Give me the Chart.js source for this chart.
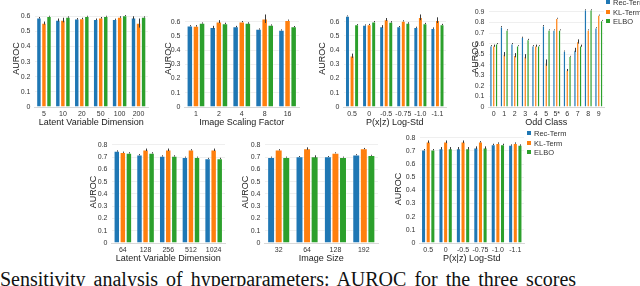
<!DOCTYPE html>
<html><head><meta charset="utf-8">
<script src="https://cdn.jsdelivr.net/npm/chart.js@4/dist/chart.umd.min.js"></script>
<style>
html,body{margin:0;padding:0;background:#fff;width:640px;height:286px;overflow:hidden;position:relative;font-family:"Liberation Sans",Arial,sans-serif;}
canvas{position:absolute;}
.leg{position:absolute;font-size:7.5px;color:#333;line-height:9.5px;}
.leg div{white-space:nowrap;}
.leg span{display:inline-block;width:4px;height:4px;margin-right:3px;vertical-align:1px;}
#cap{position:absolute;left:0px;top:268px;font-family:"Liberation Serif","DejaVu Serif",serif;font-size:20px;line-height:22px;color:#111;white-space:nowrap;word-spacing:3px;}
</style></head><body>
<canvas id="c1"></canvas><canvas id="c2"></canvas><canvas id="c3"></canvas><canvas id="c4"></canvas>
<canvas id="c5"></canvas><canvas id="c6"></canvas><canvas id="c7"></canvas>
<div class="leg" style="left:606px;top:-2px"><div><span style="background:#1f77b4"></span>Rec-Term</div><div><span style="background:#ff7f0e"></span>KL-Term</div><div><span style="background:#2ca02c"></span>ELBO</div></div>
<div class="leg" style="left:527px;top:129px"><div><span style="background:#1f77b4"></span>Rec-Term</div><div><span style="background:#ff7f0e"></span>KL-Term</div><div><span style="background:#2ca02c"></span>ELBO</div></div>
<div id="cap">Sensitivity analysis of hyperparameters: AUROC for the three scores</div>
<script>
const seriesNames = ['Rec-Term','KL-Term','ELBO'];
const colors = ['#1f77b4','#ff7f0e','#2ca02c'];

// Plot 1: Latent Variable Dimension (top)
const cats1 = ['5','10','20','50','100','200'];
const rec1 = [0.59,0.575,0.583,0.58,0.58,0.59];
const kl1 = [0.555,0.575,0.585,0.59,0.595,0.555];
const elbo1 = [0.60,0.595,0.60,0.60,0.605,0.595];
const rec1Err = [0.005,0.01,0.005,0.005,0.004,0.01];
const kl1Err = [0.01,0.015,0.005,0.005,0.005,0.03];
const elbo1Err = [0.003,0.004,0.003,0.003,0.003,0.004];

// Plot 2: Image Scaling Factor
const cats2 = ['1','2','4','8','16'];
const rec2 = [0.571,0.56,0.565,0.548,0.541];
const kl2 = [0.57,0.60,0.60,0.62,0.61];
const elbo2 = [0.59,0.587,0.59,0.576,0.565];
const rec2Err = [0.004,0.01,0.005,0.004,0.004];
const kl2Err = [0.005,0.01,0.004,0.03,0.004];
const elbo2Err = [0.004,0.005,0.005,0.004,0.004];

// Plot 3: P(x|z) Log-Std (top)
const cats3 = ['0.5','0','-0.5','-0.75','-1.0','-1.1'];
const rec3 = [0.64,0.576,0.565,0.565,0.56,0.554];
const kl3 = [0.36,0.58,0.615,0.605,0.63,0.61];
const elbo3 = [0.58,0.60,0.598,0.59,0.587,0.58];
const rec3Err = [0.003,0.004,0.01,0.004,0.004,0.005];
const kl3Err = [0.015,0.004,0.01,0.004,0.02,0.02];
const elbo3Err = [0.003,0.004,0.005,0.005,0.004,0.004];

// Plot 4: Odd Class
const cats4 = ['0','1','2','3','4','5','5*','6','7','8','9'];
const rec4 = [0.58,0.76,0.60,0.66,0.58,0.77,0.73,0.53,0.54,0.92,0.75];
const kl4 = [0.58,0.50,0.49,0.48,0.58,0.42,0.84,0.35,0.62,0.73,0.87];
const elbo4 = [0.60,0.73,0.58,0.64,0.58,0.73,0.73,0.48,0.58,0.92,0.82];
const rec4Err = [0.005,0.005,0.005,0.005,0.005,0.005,0.004,0.004,0.02,0.004,0.004];
const kl4Err = [0.01,0.02,0.02,0.02,0.01,0.03,0.004,0.01,0.02,0.004,0.004];
const elbo4Err = [0.005,0.005,0.004,0.005,0.004,0.004,0.004,0.004,0.01,0.004,0.004];

// Plot 5: Latent Variable Dimension (bottom)
const cats5 = ['64','128','256','512','1024'];
const rec5 = [0.75,0.72,0.71,0.70,0.69];
const kl5 = [0.74,0.76,0.76,0.76,0.76];
const elbo5 = [0.735,0.735,0.71,0.70,0.69];
const rec5Err = [0.005,0.005,0.005,0.004,0.004];
const kl5Err = [0.005,0.01,0.01,0.005,0.01];
const elbo5Err = [0.005,0.005,0.005,0.004,0.005];

// Plot 6: Image Size
const cats6 = ['32','64','128','192'];
const rec6 = [0.70,0.705,0.705,0.72];
const kl6 = [0.76,0.77,0.735,0.77];
const elbo6 = [0.70,0.705,0.70,0.715];
const rec6Err = [0.004,0.004,0.004,0.004];
const kl6Err = [0.005,0.01,0.004,0.005];
const elbo6Err = [0.004,0.01,0.004,0.004];

// Plot 7: P(x|z) Log-Std (bottom)
const cats7 = ['0.5','0','-0.5','-0.75','-1.0','-1.1'];
const rec7 = [0.71,0.72,0.72,0.725,0.75,0.745];
const kl7 = [0.77,0.77,0.77,0.77,0.76,0.76];
const elbo7 = [0.71,0.72,0.72,0.725,0.75,0.745];
const rec7Err = [0.005,0.01,0.01,0.01,0.005,0.005];
const kl7Err = [0.01,0.01,0.01,0.005,0.005,0.005];
const elbo7Err = [0.005,0.01,0.01,0.01,0.005,0.005];

const errorBars = {
  id:'errorBars',
  afterDatasetsDraw(chart){
    const ctx = chart.ctx, y = chart.scales.y;
    ctx.save(); ctx.strokeStyle='#3a3a3a'; ctx.lineWidth=1;
    chart.data.datasets.forEach((ds,i)=>{
      const meta = chart.getDatasetMeta(i);
      meta.data.forEach((bar,j)=>{
        const v = ds.data[j], e = ds.errors[j];
        const x = Math.round(bar.x)+0.5;
        ctx.beginPath(); ctx.moveTo(x, y.getPixelForValue(v-e)); ctx.lineTo(x, y.getPixelForValue(v+e)); ctx.stroke();
      });
    });
    ctx.restore();
  }
};

const FONT = '"Liberation Sans", Arial, sans-serif';

function makeChart(id, box, titleX, cats, vals, errs, yMax, xTitle){
  const canvasLeft = titleX - 5.5;
  const yW = box.l - canvasLeft;
  const xH = 21, padTop = 2, padRight = 3;
  const cv = document.getElementById(id);
  const w = Math.round(box.r - canvasLeft + padRight);
  const h = Math.round(box.b - box.t + xH + padTop);
  cv.width = w; cv.height = h;
  cv.style.left = canvasLeft + 'px'; cv.style.top = (box.t - padTop) + 'px';
  cv.style.width = w+'px'; cv.style.height = h+'px';
  new Chart(cv, {
    type:'bar',
    data:{labels:cats, datasets: vals.map((d,i)=>({label:seriesNames[i], data:d, errors:errs[i],
      backgroundColor:colors[i], borderColor:'rgba(255,255,255,0.55)', borderWidth:0.8,
      categoryPercentage:0.8, barPercentage:1.0}))},
    options:{
      responsive:false, animation:false, devicePixelRatio:1,
      layout:{padding:{top:padTop,right:padRight,left:0,bottom:0}},
      plugins:{legend:{display:false}, tooltip:{enabled:false}},
      scales:{
        x:{grid:{display:false, drawTicks:false}, border:{display:true,color:'#d8d8d8'},
           ticks:{font:{size:7,family:FONT}, color:'#333', padding:3, maxRotation:0, autoSkip:false},
           title:{display:true, text:xTitle, font:{size:9,family:FONT}, color:'#222', padding:0},
           afterFit(s){ s.height = xH; }},
        y:{min:0, max:yMax, grid:{color:'#efefef', drawTicks:false}, border:{display:false},
           ticks:{font:{size:7,family:FONT}, color:'#333', padding:4, autoSkip:false,
                  callback:(v)=> v===0 ? '0' : Number(v).toFixed(1)},
           afterBuildTicks(s){
             const t=[]; for(let k=0;k*0.1<=yMax+1e-9;k++){ t.push({value:Math.round(k)/10}); }
             s.ticks = t;
           },
           title:{display:true, text:'AUROC', font:{size:9,family:FONT}, color:'#222', padding:0},
           afterFit(s){ s.width = yW; }}
      }
    },
    plugins:[errorBars]
  });
}

makeChart('c1',{l:34,t:4,r:147,b:107},16,cats1,[rec1,kl1,elbo1],[rec1Err,kl1Err,elbo1Err],0.64,'Latent Variable Dimension');
makeChart('c2',{l:184,t:4,r:298,b:107},168,cats2,[rec2,kl2,elbo2],[rec2Err,kl2Err,elbo2Err],0.68,'Image Scaling Factor');
makeChart('c3',{l:343,t:4,r:445,b:107},322,cats3,[rec3,kl3,elbo3],[rec3Err,kl3Err,elbo3Err],0.68,'P(x|z) Log-Std');
makeChart('c4',{l:488,t:2,r:603,b:107},475,cats4,[rec4,kl4,elbo4],[rec4Err,kl4Err,elbo4Err],0.935,'Odd Class');
makeChart('c5',{l:111,t:135,r:224,b:243},93,cats5,[rec5,kl5,elbo5],[rec5Err,kl5Err,elbo5Err],0.83,'Latent Variable Dimension');
makeChart('c6',{l:264,t:135,r:377,b:243},245,cats6,[rec6,kl6,elbo6],[rec6Err,kl6Err,elbo6Err],0.83,'Image Size');
makeChart('c7',{l:419,t:129,r:523,b:243},398,cats7,[rec7,kl7,elbo7],[rec7Err,kl7Err,elbo7Err],0.82,'P(x|z) Log-Std');
</script>
</body></html>
